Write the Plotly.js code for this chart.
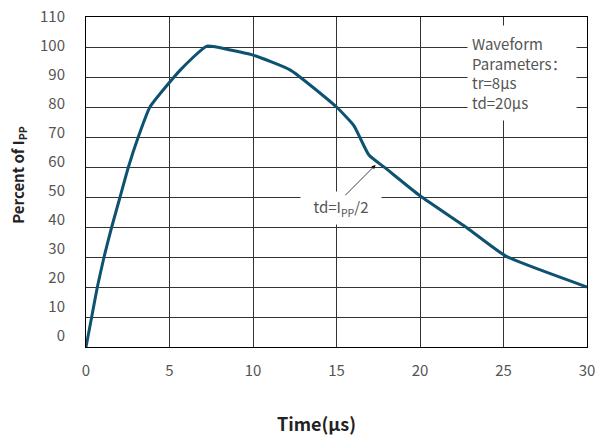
<!DOCTYPE html>
<html>
<head>
<meta charset="utf-8">
<script src="https://cdn.plot.ly/plotly-3.0.1.min.js"></script>
<style>html,body{margin:0;padding:0;background:#fff;}#chart{width:595px;height:439px;}</style>
</head>
<body>
<div id="chart"></div>
<script>
// Waveform (time in µs, percent of Ipp)
const timeUs = [0, 0.34, 0.68, 1.08, 1.54, 2.04, 2.54, 3.13, 3.83, 5.64, 7.24, 8.64, 10, 12.24, 15, 16.04, 16.94, 17.94, 20, 22.84, 25.14, 30];
const percentIpp = [0, 10, 20, 30, 40, 50, 60, 70, 80, 92.3, 100.3, 99, 97.3, 92.3, 80, 73.8, 64, 59.6, 50.4, 39.6, 30.3, 20];
const yTickVals = [0, 10, 20, 30, 40, 50, 60, 70, 80, 90, 100, 110];
const yTickText = ["0", "10", "20", "30", "40", "50", "60", "70", "80", "90", "100", "110"];
const xTickVals = [0, 5, 10, 15, 20, 25, 30];
const paramLines = ["Waveform", "Parameters：", "tr=8μs", "td=20μs"];
const tdPoint = {t: 17.34, v: 60.7};

const FONT = '"Noto Sans CJK SC", "Noto Sans", sans-serif';

const traces = [
  {x: timeUs, y: percentIpp, type: 'scatter', mode: 'lines',
   line: {color: '#0d5270', width: 3, shape: 'spline', smoothing: 0.45},
   hoverinfo: 'skip', showlegend: false},
  // invisible trace that carries the tick-label axis
  {x: [0], y: [0], yaxis: 'y2', type: 'scatter', mode: 'markers',
   marker: {opacity: 0}, hoverinfo: 'skip', showlegend: false}
];

const layout = {
  width: 595, height: 439,
  margin: {l: 86, r: 8, t: 17, b: 92},
  paper_bgcolor: '#fff', plot_bgcolor: '#fff',
  font: {family: FONT, size: 15, color: '#555'},
  xaxis: {
    range: [0, 30], tickvals: xTickVals, ticktext: xTickVals.map(String),
    showgrid: true, gridcolor: '#333', gridwidth: 1,
    zeroline: false, showline: true, linecolor: '#000', linewidth: 1, mirror: true,
    ticks: '', ticklabelstandoff: 10, ticklabeloverflow: 'allow',
    tickfont: {family: FONT, size: 15, color: '#555'}
  },
  yaxis: {
    range: [0, 110], tickvals: yTickVals, showticklabels: false,
    showgrid: true, gridcolor: '#333', gridwidth: 1,
    zeroline: false, showline: true, linecolor: '#000', linewidth: 1, mirror: true,
    ticks: ''
  },
  yaxis2: {
    overlaying: 'y', side: 'left', range: [-3.79, 110.05],
    tickvals: yTickVals, ticktext: yTickText,
    showgrid: false, zeroline: false, showline: false, ticks: '',
    ticklabelstandoff: 20, ticklabeloverflow: 'allow',
    tickfont: {family: FONT, size: 15, color: '#555'}
  },
  annotations: [
    {xref: 'paper', yref: 'paper', x: 0.76, y: 0.976, xanchor: 'left', yanchor: 'top',
     text: paramLines.join('<br>'), align: 'left', showarrow: false,
     bgcolor: '#fff', width: 100, height: 86, borderpad: 4,
     font: {family: FONT, size: 15, color: '#555'}},
    {x: 15.27, y: 46.3, xref: 'x', yref: 'y', text: 'td=I<sub>PP</sub>/2', showarrow: false,
     bgcolor: '#fff', width: 72, height: 24, borderpad: 4,
     font: {family: FONT, size: 15, color: '#555'}},
    {x: tdPoint.t, y: tdPoint.v, xref: 'x', yref: 'y', text: '', showarrow: true,
     axref: 'x', ayref: 'y', ax: 15.44, ay: 50.1,
     arrowhead: 2, arrowsize: 1, arrowwidth: 0.8, arrowcolor: '#111', standoff: 0},
    {xref: 'paper', yref: 'paper', x: -0.135, y: 0.52, xanchor: 'center', yanchor: 'middle',
     text: '<b>Percent of I<sub>PP</sub></b>', textangle: -90, showarrow: false,
     font: {family: FONT, size: 15, color: '#222'}},
    {xref: 'paper', yref: 'paper', x: 0.46, y: -0.23, xanchor: 'center', yanchor: 'middle',
     text: '<b>Time(μs)</b>', showarrow: false,
     font: {family: FONT, size: 18, color: '#222'}}
  ]
};

Plotly.newPlot('chart', traces, layout, {staticPlot: true, displayModeBar: false});
</script>
</body>
</html>
